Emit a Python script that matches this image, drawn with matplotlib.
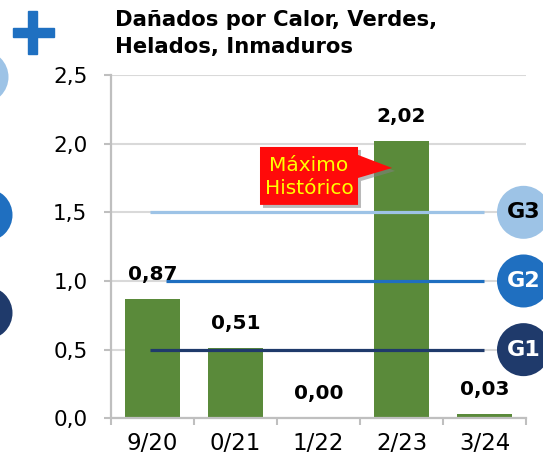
import numpy as np
import matplotlib
matplotlib.use("Agg")
import matplotlib.pyplot as plt
from matplotlib.patches import Ellipse, Rectangle, Polygon
from matplotlib.transforms import offset_copy

categories = ["9/20", "0/21", "1/22", "2/23", "3/24"]
values = [0.87, 0.51, 0.00, 2.02, 0.03]
levels = [0.5, 1.0, 1.5]
level_names = ["G1", "G2", "G3"]
yticks = [0.0, 0.5, 1.0, 1.5, 2.0, 2.5]

bar_color = "#5A8A3A"
level_colors = ["#1F3A6B", "#1F6FC0", "#9DC3E6"]
level_text = ["white", "white", "black"]
line_start = [-0.03, 0.16, -0.03]
line_end = 3.99

W, H = 543, 463
fig = plt.figure(figsize=(W / 100, H / 100), dpi=100)
ax = fig.add_axes([111 / W, 44.7 / H, 415 / W, 343.3 / H])

x = np.arange(len(categories))
ax.bar(x, values, width=0.66, color=bar_color, zorder=2)
ax.set_xlim(-0.5, len(categories) - 0.5)
ax.set_ylim(0, 2.5)

# grid / spines
ax.yaxis.grid(True, color="#D9D9D9", lw=1.5)
ax.set_axisbelow(True)
for s in ["top", "right"]:
    ax.spines[s].set_visible(False)
for s in ["left", "bottom"]:
    ax.spines[s].set_color("#BFBFBF")
    ax.spines[s].set_linewidth(1.6)

ax.set_yticks(yticks)
ax.set_yticklabels([f"{v:.1f}".replace(".", ",") for v in yticks])
ax.tick_params(axis="y", length=5, width=1.5, color="#BFBFBF", pad=12, labelsize=15.5)
ax.set_xticks(x)
ax.set_xticklabels(categories)
ax.set_xticks(np.arange(-0.5, len(categories), 1), minor=True)
ax.tick_params(axis="x", which="major", length=0, pad=10, labelsize=16.5)
ax.tick_params(axis="x", which="minor", length=5, width=1.5, color="#BFBFBF")

# reference lines
for lv, c, xs in zip(levels, level_colors, line_start):
    ax.plot([xs, line_end], [lv, lv], color=c, lw=2.3, zorder=3, solid_capstyle="butt")

# value labels
for xi, v in zip(x, values):
    ax.annotate(f"{v:.2f}".replace(".", ","), (xi, v), xytext=(0, 11),
                textcoords="offset points", ha="center", va="bottom",
                fontsize=14.5, fontweight="bold", zorder=5)

# callout "Maximo Historico"
L, R, T, B = 1.295, 2.476, 1.976, 1.554
pts = [(L, T), (R, T), (R, 1.918), (2.886, 1.823), (R, 1.75), (R, B), (L, B)]
shadow_tr = offset_copy(ax.transData, fig=fig, x=3, y=-3, units="dots")
ax.add_patch(Polygon(pts, closed=True, facecolor="#808080", alpha=0.55,
                     edgecolor="none", transform=shadow_tr, zorder=5))
ax.add_patch(Polygon(pts, closed=True, facecolor="#FF0A0A", edgecolor="none", zorder=6))
ax.text((L + R) / 2, 1.755, "Máximo\nHistórico", ha="center", va="center",
        color="#FFFF00", fontsize=14.5, linespacing=1.25, zorder=7)

# G circles on the right
inv = fig.transFigure.inverted()
r = 26.5
for lv, c, tc, name in zip(levels, level_colors, level_text, level_names):
    py = ax.transData.transform((0, lv))[1]
    fx, fy = inv.transform((523.5, py))
    fig.add_artist(Ellipse((fx, fy), 2 * r / W, 2 * r / H, facecolor=c,
                           edgecolor="none", transform=fig.transFigure))
    fig.text(507 / W, fy, name, ha="left", va="center", color=tc,
             fontsize=16, fontweight="bold")

# partial circles on the left edge (neighbouring panel)
for (cx, cy), c in zip([(-14, 313), (-14, 215), (-18, 77)], level_colors):
    fig.add_artist(Ellipse((cx / W, 1 - cy / H), 2 * r / W, 2 * r / H, facecolor=c,
                           edgecolor="none", transform=fig.transFigure))

# blue plus sign
fig.add_artist(Rectangle((13 / W, 1 - 37 / H), 41 / W, 9 / H, color="#1F70C1",
                         transform=fig.transFigure))
fig.add_artist(Rectangle((28 / W, 1 - 54 / H), 9 / W, 43 / H, color="#1F70C1",
                         transform=fig.transFigure))

fig.text(115 / W, 1 - 10 / H, "Dañados por Calor, Verdes,\nHelados, Inmaduros",
         ha="left", va="top", fontsize=15.2, fontweight="bold", linespacing=1.42)

fig.savefig("out.png", dpi=100)
